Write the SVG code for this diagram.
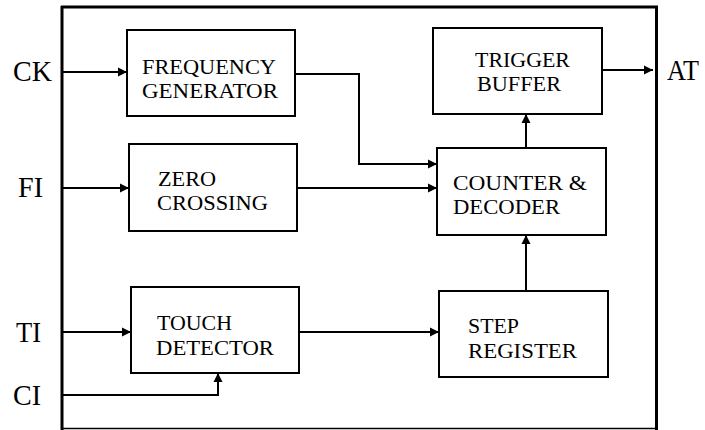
<svg xmlns="http://www.w3.org/2000/svg" width="705" height="430" viewBox="0 0 705 430">
<style>
.box{fill:#fff;stroke:#000;stroke-width:2}
.t{font-family:"Liberation Serif","Times New Roman",serif;font-size:22px;fill:#000}
.lbl{font-family:"Liberation Serif","Times New Roman",serif;font-size:30px;fill:#000}
.c{fill:none;stroke:#000;stroke-width:2}
</style>
<defs>
<marker id="ah" markerUnits="userSpaceOnUse" viewBox="0 0 10 10" refX="10" refY="5" markerWidth="9" markerHeight="10" orient="auto">
<path d="M0,0 L10,5 L0,10 z" fill="#000"/>
</marker>
</defs>
<rect width="705" height="430" fill="#fff"/>
<g id="frame">
<path d="M61,7 H658" stroke="#000" stroke-width="3" fill="none"/>
<path d="M62,6 V430" stroke="#000" stroke-width="3" fill="none"/>
<path d="M656.5,6 V430" stroke="#000" stroke-width="3" fill="none"/>
<path d="M61,428.5 H658" stroke="#000" stroke-width="1.5" fill="none"/>
</g>
<g id="labels">
<text class="lbl" x="13" y="81" textLength="39" lengthAdjust="spacingAndGlyphs">CK</text>
<text class="lbl" x="18" y="197" textLength="25" lengthAdjust="spacingAndGlyphs">FI</text>
<text class="lbl" x="16" y="342" textLength="25" lengthAdjust="spacingAndGlyphs">TI</text>
<text class="lbl" x="13" y="405" textLength="28" lengthAdjust="spacingAndGlyphs">CI</text>
<text class="lbl" x="667" y="80" textLength="32" lengthAdjust="spacingAndGlyphs">AT</text>
</g>
<g id="connectors">
<path class="c" d="M63,72 H127" marker-end="url(#ah)"/>
<path class="c" d="M63,188 H129" marker-end="url(#ah)"/>
<path class="c" d="M63,332 H131" marker-end="url(#ah)"/>
<path class="c" d="M63,395 H218 V373" marker-end="url(#ah)"/>
<path class="c" d="M295,74 H359 V164 H437" marker-end="url(#ah)"/>
<path class="c" d="M297,188 H437" marker-end="url(#ah)"/>
<path class="c" d="M299,332 H439" marker-end="url(#ah)"/>
<path class="c" d="M526,291 V235" marker-end="url(#ah)"/>
<path class="c" d="M526,148 V114" marker-end="url(#ah)"/>
<path class="c" d="M602,70 H653" marker-end="url(#ah)"/>
</g>
<g id="freq-gen">
<rect class="box" x="127" y="30" width="168" height="86"/>
<text class="t" x="142" y="74" textLength="134" lengthAdjust="spacingAndGlyphs">FREQUENCY</text>
<text class="t" x="142" y="98" textLength="136" lengthAdjust="spacingAndGlyphs">GENERATOR</text>
</g>
<g id="zero-crossing">
<rect class="box" x="129" y="144" width="168" height="87"/>
<text class="t" x="158" y="186" textLength="58" lengthAdjust="spacingAndGlyphs">ZERO</text>
<text class="t" x="157" y="210" textLength="111" lengthAdjust="spacingAndGlyphs">CROSSING</text>
</g>
<g id="touch-detector">
<rect class="box" x="131" y="287" width="168" height="86"/>
<text class="t" x="157" y="330" textLength="75" lengthAdjust="spacingAndGlyphs">TOUCH</text>
<text class="t" x="156" y="355" textLength="118" lengthAdjust="spacingAndGlyphs">DETECTOR</text>
</g>
<g id="step-register">
<rect class="box" x="439" y="291" width="169" height="86"/>
<text class="t" x="468" y="333" textLength="51" lengthAdjust="spacingAndGlyphs">STEP</text>
<text class="t" x="468" y="358" textLength="109" lengthAdjust="spacingAndGlyphs">REGISTER</text>
</g>
<g id="counter-decoder">
<rect class="box" x="437" y="148" width="169" height="87"/>
<text class="t" x="453" y="190" textLength="134" lengthAdjust="spacingAndGlyphs">COUNTER &amp;</text>
<text class="t" x="453" y="214" textLength="107" lengthAdjust="spacingAndGlyphs">DECODER</text>
</g>
<g id="trigger-buffer">
<rect class="box" x="433" y="28" width="169" height="86"/>
<text class="t" x="475" y="67" textLength="95" lengthAdjust="spacingAndGlyphs">TRIGGER</text>
<text class="t" x="477" y="91" textLength="84" lengthAdjust="spacingAndGlyphs">BUFFER</text>
</g>
</svg>
